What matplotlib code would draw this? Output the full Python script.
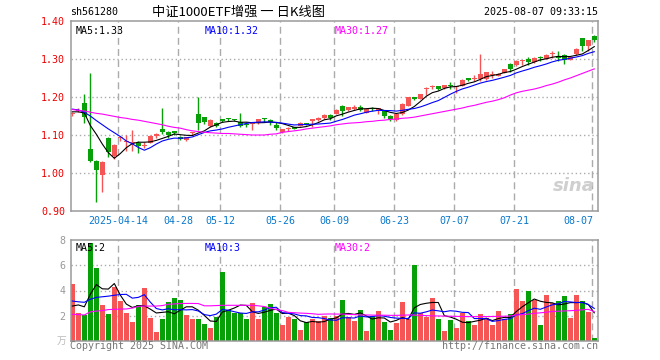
import numpy as np
import pandas as pd
import matplotlib.pyplot as plt

# trading days shown (04-04, 05-01..05-05 and 06-02 are holidays)
holidays = ['2025-04-04', '2025-05-01', '2025-05-02', '2025-05-05', '2025-06-02']
days = pd.bdate_range('2025-04-01', '2025-08-07')
days = days[~days.isin(pd.to_datetime(holidays))]

tick_days = ['2025-04-14', '2025-04-28', '2025-05-12', '2025-05-26', '2025-06-09',
             '2025-06-23', '2025-07-07', '2025-07-21', '2025-08-07']
tick_text = ['2025-04-14', '04-28', '05-12', '05-26', '06-09', '06-23', '07-07', '07-21', '08-07']

opens = [1.155, 1.162, 1.184, 1.064, 1.031, 0.994, 1.093, 1.044, 1.091, 1.082,
         1.079, 1.080, 1.072, 1.079, 1.097, 1.115, 1.109, 1.111, 1.096, 1.088,
         1.104, 1.156, 1.148, 1.125, 1.132, 1.140, 1.144, 1.141, 1.135, 1.130,
         1.128, 1.132, 1.143, 1.140, 1.127, 1.109, 1.115, 1.121, 1.124, 1.130,
         1.138, 1.139, 1.145, 1.153, 1.156, 1.177, 1.165, 1.168, 1.175, 1.158,
         1.170, 1.167, 1.162, 1.151, 1.140, 1.154, 1.177, 1.199, 1.196, 1.222,
         1.227, 1.229, 1.223, 1.229, 1.226, 1.230, 1.248, 1.248, 1.247, 1.247,
         1.259, 1.256, 1.263, 1.288, 1.283, 1.294, 1.300, 1.291, 1.304, 1.300,
         1.314, 1.307, 1.311, 1.298, 1.313, 1.354, 1.333, 1.361]
highs = [1.161, 1.170, 1.207, 1.263, 1.033, 1.032, 1.094, 1.076, 1.097, 1.100,
         1.114, 1.083, 1.081, 1.099, 1.104, 1.171, 1.110, 1.111, 1.097, 1.096,
         1.107, 1.199, 1.148, 1.142, 1.134, 1.143, 1.146, 1.143, 1.159, 1.133,
         1.133, 1.143, 1.145, 1.141, 1.133, 1.117, 1.120, 1.122, 1.133, 1.132,
         1.141, 1.147, 1.154, 1.154, 1.168, 1.178, 1.174, 1.178, 1.178, 1.170,
         1.173, 1.169, 1.167, 1.152, 1.155, 1.183, 1.201, 1.200, 1.209, 1.226,
         1.232, 1.230, 1.232, 1.240, 1.230, 1.247, 1.251, 1.259, 1.314, 1.266,
         1.269, 1.262, 1.275, 1.289, 1.297, 1.298, 1.305, 1.304, 1.307, 1.312,
         1.322, 1.322, 1.313, 1.306, 1.328, 1.355, 1.350, 1.362]
lows = [1.150, 1.160, 1.132, 1.028, 0.923, 0.950, 1.043, 1.036, 1.085, 1.058,
        1.057, 1.052, 1.066, 1.078, 1.092, 1.103, 1.092, 1.100, 1.087, 1.085,
        1.101, 1.114, 1.128, 1.122, 1.120, 1.133, 1.138, 1.136, 1.121, 1.122,
        1.114, 1.130, 1.133, 1.127, 1.114, 1.105, 1.110, 1.115, 1.123, 1.126,
        1.122, 1.137, 1.143, 1.140, 1.154, 1.149, 1.163, 1.167, 1.163, 1.157,
        1.164, 1.155, 1.146, 1.136, 1.136, 1.152, 1.176, 1.193, 1.195, 1.205,
        1.220, 1.219, 1.221, 1.220, 1.211, 1.229, 1.242, 1.241, 1.241, 1.245,
        1.250, 1.254, 1.262, 1.265, 1.281, 1.285, 1.283, 1.289, 1.296, 1.299,
        1.302, 1.294, 1.288, 1.297, 1.311, 1.320, 1.320, 1.345]
closes = [1.157, 1.167, 1.148, 1.031, 1.007, 1.028, 1.054, 1.074, 1.093, 1.084,
          1.082, 1.072, 1.074, 1.098, 1.103, 1.108, 1.099, 1.105, 1.089, 1.095,
          1.105, 1.132, 1.133, 1.140, 1.124, 1.138, 1.142, 1.139, 1.124, 1.126,
          1.131, 1.141, 1.141, 1.133, 1.118, 1.117, 1.117, 1.116, 1.132, 1.129,
          1.140, 1.146, 1.153, 1.146, 1.167, 1.162, 1.173, 1.175, 1.167, 1.169,
          1.169, 1.168, 1.149, 1.143, 1.154, 1.182, 1.200, 1.196, 1.208, 1.224,
          1.229, 1.221, 1.231, 1.228, 1.229, 1.246, 1.246, 1.250, 1.261, 1.265,
          1.261, 1.261, 1.274, 1.274, 1.296, 1.296, 1.291, 1.303, 1.302, 1.311,
          1.316, 1.303, 1.298, 1.305, 1.327, 1.333, 1.349, 1.349]

# volume, unit 万
volumes = [4.54, 2.23, 2.05, 7.76, 5.79, 2.84, 2.13, 4.25, 3.16, 2.21,
           1.49, 2.84, 4.20, 1.83, 0.69, 1.73, 3.08, 3.40, 3.24, 2.05,
           1.73, 1.73, 1.33, 1.01, 1.86, 5.47, 2.45, 2.23, 2.18, 1.73,
           3.00, 1.73, 2.71, 2.92, 2.21, 1.25, 1.89, 1.73, 0.85, 1.49,
           1.73, 1.57, 1.97, 1.83, 1.97, 3.24, 1.86, 1.57, 2.45, 0.77,
           1.97, 2.37, 1.49, 0.85, 1.41, 3.08, 1.73, 6.03, 2.18, 1.89,
           3.40, 1.73, 0.77, 1.65, 1.01, 2.21, 1.57, 1.25, 2.13, 1.81,
           1.25, 2.37, 1.73, 2.13, 4.12, 3.16, 3.96, 3.24, 1.25, 3.64,
           3.00, 3.16, 3.56, 1.81, 3.64, 3.16, 2.29, 0.21]

# moving-average values before enough days are on screen
ma5_head = [1.161, 1.161, 1.158, 1.125]
ma10_head = [1.168, 1.166, 1.160, 1.150, 1.138, 1.127, 1.116, 1.106, 1.096]
ma30 = [1.167, 1.165, 1.163, 1.160, 1.157, 1.155, 1.152, 1.149, 1.146, 1.144,
        1.141, 1.139, 1.136, 1.133, 1.130, 1.127, 1.123, 1.120, 1.118, 1.114,
        1.111, 1.109, 1.107, 1.106, 1.105, 1.104, 1.104, 1.103, 1.102, 1.101,
        1.100, 1.100, 1.100, 1.102, 1.103, 1.107, 1.109, 1.111, 1.113, 1.116,
        1.118, 1.120, 1.122, 1.124, 1.127, 1.129, 1.131, 1.132, 1.133, 1.135,
        1.136, 1.138, 1.139, 1.141, 1.142, 1.144, 1.145, 1.147, 1.150, 1.153,
        1.156, 1.159, 1.162, 1.165, 1.168, 1.171, 1.175, 1.178, 1.182, 1.186,
        1.189, 1.193, 1.198, 1.205, 1.211, 1.215, 1.218, 1.221, 1.225, 1.230,
        1.234, 1.239, 1.245, 1.250, 1.256, 1.262, 1.268, 1.274]
vol_ma5_head = [2.76, 2.85, 2.70, 3.70]
vol_ma10_head = [3.16, 3.10, 3.06, 3.30, 3.45, 3.50, 3.55, 3.62, 3.68]
vol_ma30 = [2.10, 2.08, 2.05, 2.30, 2.36, 2.40, 2.48, 2.50, 2.52, 2.53,
            2.60, 2.74, 2.76, 2.76, 2.76, 2.80, 2.90, 2.93, 2.96, 2.97,
            2.97, 2.96, 2.78, 2.78, 2.80, 2.82, 2.82, 2.82, 2.82, 2.82,
            2.82, 2.78, 2.72, 2.60, 2.48, 2.40, 2.26, 2.23, 2.20, 2.18,
            2.15, 2.10, 2.12, 2.13, 2.12, 2.12, 2.10, 2.08, 2.05, 2.05,
            2.04, 2.03, 2.03, 2.02, 2.02, 2.03, 2.05, 2.04, 2.02, 2.00,
            1.98, 1.97, 1.96, 1.95, 1.94, 1.93, 1.92, 1.92, 1.92, 1.92,
            1.93, 1.94, 1.95, 1.97, 2.05, 2.08, 2.12, 2.18, 2.22, 2.27,
            2.33, 2.35, 2.37, 2.39, 2.42, 2.46, 2.50, 2.31]


def moving_avg(vals, n, head):
    s = pd.Series(vals).rolling(n).mean().to_numpy()
    s[:n - 1] = head
    return s


o = np.array(opens); h = np.array(highs); l = np.array(lows); c = np.array(closes)
v = np.array(volumes)
x = np.arange(len(c))
ma5 = moving_avg(c, 5, ma5_head)
ma10 = moving_avg(c, 10, ma10_head)
vma5 = moving_avg(v, 5, vol_ma5_head)
vma10 = moving_avg(v, 10, vol_ma10_head)

RED = '#f55555'
GREEN = '#08a008'
GRID = '#ababab'
MONO = 'DejaVu Sans Mono'
FS = 7.2

W, H = 660, 360
fig = plt.figure(figsize=(6.6, 3.6), dpi=100)


def box(left, top, right, bottom):
    return [left / W, 1 - bottom / H, (right - left) / W, (bottom - top) / H]


def ftext(px, py, s, **kw):
    fig.text(px / W, 1 - py / H, s, **kw)


ax = fig.add_axes(box(70.7, 21, 597.7, 211))
axv = fig.add_axes(box(70.7, 240.3, 597.7, 340.7))

tick_pos = [days.get_loc(pd.Timestamp(d)) - 0.33 for d in tick_days]
up = c >= o
colors = np.where(up, RED, GREEN)

for a in (ax, axv):
    a.set_xlim(-0.27, 87.57)
    for t in tick_pos:
        a.axvline(t, color=GRID, lw=1.0, ls=(0, (5, 3)), zorder=0)
    for s in a.spines.values():
        s.set_color('#9a9a9a')
        s.set_linewidth(1.1)
    a.tick_params(length=0)
    a.set_xticks([])

# price panel
ax.set_ylim(0.90, 1.40)
for y in [1.0, 1.1, 1.2, 1.3]:
    ax.axhline(y, color=GRID, lw=1.0, ls=(0, (1, 2)), zorder=0)
ax.set_yticks([0.9, 1.0, 1.1, 1.2, 1.3, 1.4])
ax.set_yticklabels(['0.90', '1.00', '1.10', '1.20', '1.30', '1.40'],
                   fontfamily=MONO, fontsize=FS, color='#ee0000')
ax.tick_params(axis='y', pad=4)

ax.vlines(x, l, h, colors=colors, lw=1.0, zorder=2)
body = np.maximum(np.abs(c - o), 0.0028)
ax.bar(x, body, bottom=np.minimum(o, c), width=0.8, color=colors, lw=0, zorder=3)
ax.plot(x, ma5, color='black', lw=0.8, zorder=4)
ax.plot(x, ma10, color='#0000ff', lw=0.8, zorder=4)
ax.plot(x, ma30, color='#ff00ff', lw=0.8, zorder=4)

for i, (t, s) in enumerate(zip(tick_pos, tick_text)):
    ha = 'right' if i == len(tick_pos) - 1 else 'center'
    ax.text(t + (0.1 if ha == 'right' else 0), -0.05, s, transform=ax.get_xaxis_transform(),
            ha=ha, va='center', fontfamily=MONO, fontsize=FS, color='#0a78cc')

ax.text(0.01, 0.975, 'MA5:%.2f' % ma5[-1], transform=ax.transAxes, va='top',
        fontfamily=MONO, fontsize=FS, color='black')
ax.text(0.254, 0.975, 'MA10:%.2f' % ma10[-1], transform=ax.transAxes, va='top',
        fontfamily=MONO, fontsize=FS, color='#0000ff')
ax.text(0.5, 0.975, 'MA30:%.2f' % ma30[-1], transform=ax.transAxes, va='top',
        fontfamily=MONO, fontsize=FS, color='#ff00ff')
ax.text(0.995, 0.13, 'sina', transform=ax.transAxes, ha='right', va='center',
        fontsize=13, fontweight='bold', fontstyle='italic', color='#cfcfcf', zorder=1)

# volume panel
axv.set_ylim(0, 8)
for y in [2, 4, 6]:
    axv.axhline(y, color=GRID, lw=1.0, ls=(0, (1, 2)), zorder=0)
axv.set_yticks([2, 4, 6, 8])
axv.set_yticklabels(['2', '4', '6', '8'], fontfamily=MONO, fontsize=FS, color='#999999')
axv.tick_params(axis='y', pad=4)
axv.bar(x, v, width=0.82, color=colors, lw=0, zorder=2)
axv.plot(x, vma5, color='black', lw=0.8, zorder=4)
axv.plot(x, vma10, color='#0000ff', lw=0.8, zorder=4)
axv.plot(x, vol_ma30, color='#ff00ff', lw=0.8, zorder=4)
axv.text(0.01, 0.97, 'MA5:%.0f' % vma5[-1], transform=axv.transAxes, va='top',
         fontfamily=MONO, fontsize=FS, color='black')
axv.text(0.254, 0.97, 'MA10:%.0f' % vma10[-1], transform=axv.transAxes, va='top',
         fontfamily=MONO, fontsize=FS, color='#0000ff')
axv.text(0.5, 0.97, 'MA30:%.0f' % vol_ma30[-1], transform=axv.transAxes, va='top',
         fontfamily=MONO, fontsize=FS, color='#ff00ff')

# header and footer
ftext(70, 12, 'sh561280', fontfamily=MONO, fontsize=FS, va='center', color='black')
ftext(238, 12, '中证1000ETF增强 一 日K线图', family=['Noto Sans CJK SC', 'DejaVu Sans'],
      fontsize=9.5, ha='center', va='center', color='black')
ftext(598, 12, '2025-08-07 09:33:15', fontfamily=MONO, fontsize=FS, ha='right',
      va='center', color='black')
ftext(66, 341, '万', family=['Noto Sans CJK SC'], fontsize=7, ha='right', va='center',
      color='#bbbbbb')
ftext(70, 346, 'Copyright 2025 SINA.COM', fontfamily=MONO, fontsize=FS, va='center',
      color='#777777')
ftext(598, 346, 'http://finance.sina.com.cn', fontfamily=MONO, fontsize=FS, ha='right',
      va='center', color='#777777')

fig.savefig('out.png', dpi=100, facecolor='white')
